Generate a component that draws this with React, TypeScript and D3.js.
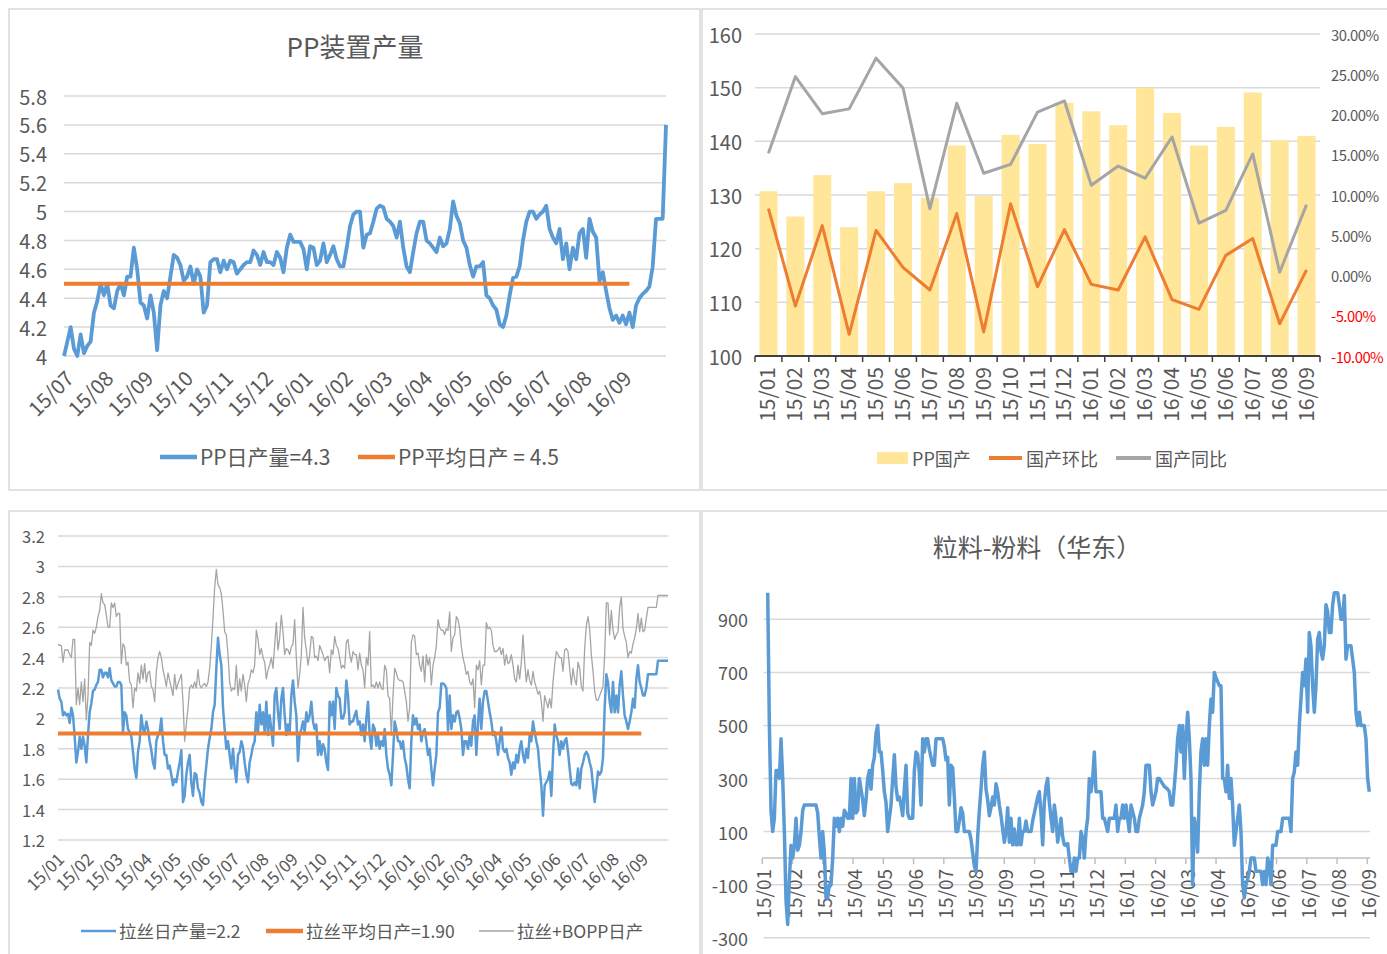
import * as d3 from "d3";

const FONT = '"Noto Sans CJK SC", "Noto Sans", sans-serif';
const TEXT = "#595959";
const GRID = "#D9D9D9";
const BLUE = "#5B9BD5";
const ORANGE = "#ED7D31";
const GRAY = "#A5A5A5";
const YELLOW = "#FFE699";

// ---- PP装置产量 (top left) ----
const ppMonths = ["15/07", "15/08", "15/09", "15/10", "15/11", "15/12", "16/01", "16/02", "16/03", "16/04", "16/05", "16/06", "16/07", "16/08", "16/09"];
const ppDaily = [
  4.0, 4.1, 4.2, 4.05, 4.0, 4.15, 4.02, 4.07, 4.1, 4.3,
  4.38, 4.5, 4.42, 4.5, 4.35, 4.33, 4.45, 4.5, 4.42, 4.55,
  4.55, 4.75, 4.6, 4.37, 4.35, 4.26, 4.42, 4.3, 4.04, 4.35,
  4.45, 4.4, 4.55, 4.7, 4.68, 4.63, 4.52, 4.55, 4.62, 4.5,
  4.6, 4.55, 4.3, 4.35, 4.65, 4.67, 4.67, 4.58, 4.66, 4.6,
  4.66, 4.65, 4.57, 4.6, 4.63, 4.65, 4.65, 4.73, 4.7, 4.63,
  4.72, 4.65, 4.65, 4.63, 4.72, 4.68, 4.58, 4.75, 4.84, 4.79,
  4.79, 4.79, 4.74, 4.6, 4.76, 4.75, 4.63, 4.66, 4.78, 4.65,
  4.7, 4.76, 4.67, 4.62, 4.62, 4.75,
  4.9, 4.98, 5.0, 5.0, 4.75, 4.84, 4.85, 4.93, 5.02, 5.04,
  5.03, 4.95, 4.93, 4.9, 4.82, 4.93, 4.75, 4.62, 4.58, 4.72,
  4.85, 4.93, 4.93, 4.8, 4.78, 4.75, 4.72, 4.82, 4.76, 4.78,
  4.88, 5.07, 4.97, 4.92, 4.8, 4.75, 4.63, 4.55, 4.62, 4.62,
  4.65, 4.42, 4.4, 4.35, 4.32, 4.22, 4.2, 4.28, 4.42, 4.54,
  4.55, 4.62, 4.8, 4.93, 5.0, 5.0, 4.95, 4.98, 5.0, 5.04,
  4.88, 4.82, 4.78, 4.88, 4.67, 4.78, 4.6, 4.75, 4.67, 4.85,
  4.88, 4.68, 4.95, 4.86, 4.82, 4.52, 4.58, 4.45, 4.33, 4.25,
  4.28, 4.23, 4.28, 4.22, 4.3, 4.2, 4.35, 4.4, 4.43, 4.45,
  4.48, 4.62, 4.95, 4.95, 4.95, 5.6,
];
const ppAvg = 4.5;
const ppAvgDays = 171;

// ---- PP国产 (top right) ----
const trMonths = ["15/01", "15/02", "15/03", "15/04", "15/05", "15/06", "15/07", "15/08", "15/09", "15/10", "15/11", "15/12", "16/01", "16/02", "16/03", "16/04", "16/05", "16/06", "16/07", "16/08", "16/09"];
const domestic = [130.7, 126, 133.7, 124, 130.7, 132.2, 129.5, 139.2, 129.8, 141.2, 139.5, 147.2, 145.6, 143, 150, 145.3, 139.2, 142.7, 149.1, 140.2, 141];
const momPct = [8.3, -3.8, 6.2, -7.3, 5.6, 1.0, -1.8, 7.7, -7.0, 8.9, -1.4, 5.7, -1.1, -1.8, 4.8, -3.0, -4.2, 2.5, 4.6, -6.0, 0.7];
const yoyPct = [15.2, 24.7, 20.1, 20.7, 27.0, 23.3, 8.3, 21.4, 12.7, 13.8, 20.3, 21.7, 11.2, 13.6, 12.1, 17.2, 6.5, 8.1, 15.1, 0.4, 8.8];

// ---- 拉丝 (bottom left) ----
const blMonths = ["15/01", "15/02", "15/03", "15/04", "15/05", "15/06", "15/07", "15/08", "15/09", "15/10", "15/11", "15/12", "16/01", "16/02", "16/03", "16/04", "16/05", "16/06", "16/07", "16/08", "16/09"];
const raffia = [
  2.19, 2.13, 2.11, 2.02, 2.04, 2.02, 2.03, 1.97, 2.07, 2.02,
  1.88, 1.71, 1.78, 1.88, 1.8, 1.88, 1.82, 1.71, 1.89, 2.04,
  2.1, 2.18, 2.19, 2.22, 2.24, 2.32, 2.32, 2.27, 2.3, 2.3,
  2.27, 2.33, 2.25, 2.23, 2.21, 2.21, 2.24, 2.24, 2.22, 1.91,
  2.04, 2.02, 1.93, 1.91, 1.88, 1.78, 1.67, 1.61, 1.78, 1.85,
  2.02, 1.93, 1.91, 1.98, 1.93, 1.85, 1.79, 1.71, 1.67, 1.85,
  1.89, 1.91, 2.0, 1.85, 1.76, 1.76, 1.67, 1.69, 1.63, 1.56,
  1.6, 1.58, 1.65, 1.71, 1.79, 1.45, 1.49, 1.63, 1.71, 1.76,
  1.58, 1.49, 1.64, 1.63, 1.54, 1.51, 1.45, 1.43, 1.58, 1.69,
  1.8, 1.87, 1.93, 2.04, 2.09, 2.33, 2.53, 2.42, 2.35, 2.07,
  1.93, 1.8, 1.85, 1.76, 1.67, 1.8, 1.67, 1.58, 1.76, 1.78,
  1.85, 1.81, 1.71, 1.63, 1.58, 1.71, 1.76, 1.82, 1.85, 2.04,
  1.91, 2.09, 1.96, 2.04, 1.91, 2.11, 1.89, 2.02, 1.93, 1.82,
  2.15, 2.2, 2.04, 1.93, 2.13, 2.2, 2.02, 1.89, 1.96, 1.91,
  2.15, 2.25, 2.11, 2.02, 1.72, 1.89, 1.93, 1.98, 1.91, 2.04,
  1.98, 2.02, 2.11, 1.98, 1.93, 1.96, 1.76, 1.85, 1.76, 1.83,
  1.8, 1.71, 1.66, 2.11, 2.02, 2.11, 1.93, 2.2, 2.15, 2.13,
  2.0, 2.0, 2.04, 2.25, 2.15, 1.96, 1.98, 1.98, 2.02, 2.05,
  1.96, 1.98, 1.89, 1.96, 1.85,
  2.0, 2.11, 1.89, 1.8, 1.96, 1.93, 1.82, 1.89, 1.8, 1.85,
  1.82, 1.93, 1.76, 1.67, 1.63, 1.56, 1.76, 1.98, 1.93, 1.85,
  1.85, 1.8, 1.85, 1.74, 1.69, 1.6, 1.54, 1.85, 2.02, 1.96,
  2.0, 1.93, 1.96, 1.85, 1.91, 1.93, 1.85, 1.76, 1.8, 1.67,
  1.56, 1.67, 1.76, 2.04, 2.07, 2.23, 2.23, 2.22, 2.2, 1.92,
  2.15, 1.93, 2.02, 1.98, 2.04, 2.05, 2.0, 1.93, 1.76, 1.85,
  1.85, 1.8, 1.89, 1.82, 1.98, 2.02, 1.76, 1.96, 2.13, 1.93,
  2.11, 2.18, 2.18, 2.11, 2.04, 1.98, 1.89, 1.91, 1.85, 1.76,
  1.85, 1.94, 1.8, 1.78, 1.8, 1.74, 1.71, 1.63, 1.71, 1.67,
  1.76, 1.71, 1.8, 1.85, 1.76, 1.71, 1.8, 1.74, 1.89, 1.85,
  1.98, 1.91, 1.85, 1.8, 1.67, 1.56, 1.36, 1.56, 1.58, 1.6,
  1.65, 1.49, 1.76, 1.96, 1.89, 1.85, 1.76, 1.85, 1.8, 1.85,
  1.87, 1.78, 1.67, 1.57, 1.56, 1.58, 1.56, 1.67, 1.54, 1.67,
  1.71, 1.76, 1.78, 1.76, 1.71, 1.67, 1.56, 1.45, 1.54, 1.65,
  1.63, 1.65, 1.74, 2.07, 2.29, 2.24, 2.11, 2.04, 2.24, 2.04,
  2.15, 2.04, 2.22, 2.31, 2.15, 2.02, 1.98, 1.93, 1.98, 2.04,
  2.13, 2.07, 2.26, 2.35, 2.24, 2.2, 2.15, 2.15, 2.2, 2.29,
  2.29, 2.29, 2.29, 2.29, 2.29, 2.38, 2.38, 2.38, 2.38, 2.38,
  2.38, 2.38,
];
const raffiaBopp = [
  2.49, 2.48, 2.48, 2.37, 2.45, 2.45, 2.45, 2.42, 2.4, 2.52,
  2.52, 2.09, 2.2, 2.09, 2.24, 2.11, 2.26, 1.99, 2.15, 2.5,
  2.48, 2.58, 2.56, 2.6, 2.67, 2.71, 2.82, 2.76, 2.75, 2.68,
  2.6, 2.6, 2.76, 2.73, 2.76, 2.67, 2.69, 2.69, 2.36, 2.49,
  2.47, 2.35, 2.37, 2.24, 2.22, 2.07, 2.2, 2.18, 2.3, 2.23,
  2.35, 2.26, 2.36, 2.24, 2.3, 2.31, 2.21, 2.19, 2.11, 2.31,
  2.4, 2.44, 2.4, 2.32, 2.27, 2.21, 2.3, 2.25, 2.2, 2.15,
  2.29, 2.19, 2.23, 2.26, 2.29, 2.11, 1.85, 1.96, 2.07, 2.2,
  2.22, 2.2, 2.24, 2.2, 2.32, 2.22, 2.2, 2.22, 2.23, 2.21,
  2.24, 2.33, 2.48, 2.66, 2.86, 2.98, 2.88, 2.86, 2.82, 2.71,
  2.57, 2.55, 2.42, 2.24, 2.18, 2.2, 2.19, 2.35, 2.15, 2.26,
  2.18, 2.29, 2.22, 2.11, 2.23, 2.26, 2.32, 2.3, 2.35, 2.58,
  2.52, 2.42, 2.46, 2.4, 2.37, 2.26, 2.32, 2.35, 2.4, 2.33,
  2.48, 2.63, 2.45, 2.53, 2.68, 2.57, 2.42, 2.46, 2.45, 2.42,
  2.47, 2.49, 2.65, 2.4, 2.2, 2.29, 2.42, 2.73, 2.53, 2.45,
  2.35, 2.42, 2.54, 2.53, 2.4, 2.41, 2.38, 2.48, 2.45, 2.42,
  2.38, 2.4, 2.41, 2.3, 2.45, 2.42, 2.54, 2.48, 2.46, 2.4,
  2.33, 2.35, 2.33, 2.5, 2.52, 2.42, 2.37, 2.44, 2.42, 2.42,
  2.32, 2.43, 2.35, 2.32, 2.2,
  2.4, 2.35, 2.57, 2.21, 2.22, 2.2, 2.24, 2.2, 2.24, 2.2,
  2.19, 2.35, 2.32, 2.15, 2.13, 1.89, 2.15, 2.33, 2.3, 2.26,
  2.25, 2.25, 2.24, 2.18, 2.11, 1.98, 2.07, 2.5, 2.55, 2.54,
  2.42, 2.43, 2.35, 2.31, 2.41, 2.24, 2.42, 2.35, 2.4, 2.22,
  2.35, 2.4, 2.48, 2.65, 2.6, 2.58, 2.58, 2.55, 2.59, 2.58,
  2.7, 2.44, 2.53, 2.55, 2.67, 2.65, 2.59, 2.47, 2.4, 2.35,
  2.29, 2.31, 2.24, 2.22, 2.26, 2.07, 2.35, 2.32, 2.38, 2.22,
  2.35, 2.35, 2.63, 2.59, 2.6, 2.58, 2.48, 2.44, 2.44, 2.45,
  2.47, 2.42, 2.46, 2.35, 2.42, 2.36, 2.37, 2.42, 2.35, 2.26,
  2.24, 2.35, 2.26, 2.37, 2.55, 2.37, 2.24, 2.32, 2.25, 2.22,
  2.31, 2.24, 2.2, 2.16, 2.18, 2.11, 1.98, 2.15, 2.11, 2.07,
  2.13, 2.07, 2.24, 2.35, 2.44, 2.42, 2.4, 2.4, 2.31, 2.45,
  2.46, 2.44, 2.33, 2.22, 2.33, 2.26, 2.22, 2.37, 2.33, 2.21,
  2.18, 2.46, 2.61, 2.67, 2.59, 2.42, 2.31, 2.18, 2.12, 2.12,
  2.15, 2.18, 2.21, 2.42, 2.76, 2.76, 2.55, 2.71, 2.58, 2.52,
  2.55, 2.57, 2.73, 2.8, 2.59, 2.54, 2.5, 2.4, 2.44, 2.43,
  2.49, 2.53, 2.59, 2.69, 2.57, 2.66, 2.57, 2.58, 2.66, 2.73,
  2.73, 2.73, 2.73, 2.73, 2.73, 2.81, 2.81, 2.81, 2.81, 2.81,
  2.81, 2.81,
];
const raffiaAvg = 1.9;
const raffiaAvgDays = 351;

// ---- 粒料-粉料（华东） (bottom right) ----
const brMonths = ["15/01", "15/02", "15/03", "15/04", "15/05", "15/06", "15/07", "15/08", "15/09", "15/10", "15/11", "15/12", "16/01", "16/02", "16/03", "16/04", "16/05", "16/06", "16/07", "16/08", "16/09"];
const brTicks = [-300, -100, 100, 300, 500, 700, 900];
const spread = [
  1000, 500, 180, 100, 150, 330, 330, 300, 450, 300,
  100, -160, -250, -80, 48, 0, 48, 150, 30, 48,
  100, 180, 200, 200, 200, 200, 200, 200, 200, 200,
  170, 80, 0, 100, 20, -150, -150, -100, -100, 0,
  150, 120, 150, 100, 150, 120, 180, 170, 150, 150,
  300, 150, 300, 170, 180, 300, 260, 220, 160, 220,
  300, 330, 260, 350, 380, 470, 500, 400, 400, 330,
  250, 210, 100, 150, 200, 300, 390, 270, 220, 230,
  200, 160, 260, 350, 170, 150, 150, 150, 330, 400,
  390, 320, 200, 450, 400, 450, 450, 410, 380, 350,
  350, 450, 450, 450, 450, 450, 420, 370, 380, 200,
  350, 340, 230, 100, 100, 140, 190, 170, 100, 100,
  100, 100, 70, 20, -30, -50, 80, 180, 260, 350,
  400, 260, 220, 160, 190, 230, 200, 280, 250, 200,
  160, 110, 60, 100, 190, 60, 150, 50, 110, 50,
  50, 150, 50, 100, 100, 140, 100, 100, 100, 140,
  170, 200, 230, 250, 170, 50, 210, 270, 300, 210,
  150, 100, 200, 150, 60, 100, 150, 80, 50,
  48, 55, 0, -50, -50, 0, -50, 0, 0, 100,
  75, 0, 100, 150, 300, 250, 300, 400, 250, 250,
  250, 250, 150, 150, 125, 100, 150, 150, 150, 150,
  200, 100, 150, 150, 200, 150, 200, 150, 100, 200,
  175, 150, 100, 100, 150, 175, 200, 250, 350, 350,
  350, 250, 200, 225, 250, 300, 300, 290, 280, 270,
  265, 260, 250, 200, 200, 270, 350, 450, 500, 400,
  500, 300, 450, 550, 450, 300, -100, 150, 100, 23,
  250, 400, 450, 350, 450, 350, 500, 600, 550, 700,
  680, 665, 650, 650, 300, 300, 250, 350, 225, 300,
  200, 48, 100, 150, 200, 100, -100, -150, -100, -80,
  -50, 0, 0, 0, -50, -50, -50, -50, -100, -50,
  -100, 0, -25, -100, 48, 48, 48, 100, 100, 100,
  150, 150, 150, 150, 150, 100, 300, 325, 400, 350,
  500, 600, 700, 650, 750, 550, 850, 800, 650, 550,
  650, 825, 850, 780, 750, 800, 955, 930, 850, 850,
  955, 1000, 1000, 1000, 955, 900, 900, 990, 750, 800,
  800, 800, 750, 700, 550, 500, 550, 500, 500, 500,
  450, 300, 250,
];

const fmtDec = (d: number) => String(+d.toFixed(1));

function Frame({ x, y, w, h }: { x: number; y: number; w: number; h: number }) {
  return <rect x={x} y={y} width={w} height={h} fill="#fff" stroke={GRID} strokeWidth={1.5} />;
}

function PPOutputChart() {
  const x = d3.scaleLinear().domain([0, ppDaily.length - 1]).range([64, 666]);
  const y = d3.scaleLinear().domain([4, 5.8]).range([356, 96]);
  const lbl = d3.scalePoint<string>().domain(ppMonths).range([66, 624]);
  const line = d3.line<number>().x((_, i) => x(i)).y((d) => y(d));
  return (
    <g>
      <Frame x={9} y={9} w={691} h={481} />
      <text x={355} y={57} textAnchor="middle" fontSize={26} fill={TEXT}>PP装置产量</text>
      {y.ticks(9).map((t) => (
        <g key={t}>
          <line x1={64} x2={666} y1={y(t)} y2={y(t)} stroke={GRID} strokeWidth={1.5} />
          <text x={47} y={y(t)} textAnchor="end" dominantBaseline="central" fontSize={20} fill={TEXT}>{fmtDec(t)}</text>
        </g>
      ))}
      {ppMonths.map((m) => (
        <text key={m} transform={`translate(${lbl(m)},371) rotate(-45)`} textAnchor="end" dy="0.62em" fontSize={20.5} fill={TEXT}>{m}</text>
      ))}
      <path d={line(ppDaily) || ""} fill="none" stroke={BLUE} strokeWidth={3.8} strokeLinejoin="round" />
      <line x1={x(0)} x2={x(ppAvgDays - 1)} y1={y(ppAvg)} y2={y(ppAvg)} stroke={ORANGE} strokeWidth={4} />
      <line x1={160} x2={197} y1={457} y2={457} stroke={BLUE} strokeWidth={4.5} />
      <text x={200} y={465} fontSize={21} fill={TEXT}>PP日产量=4.3</text>
      <line x1={358} x2={395} y1={457} y2={457} stroke={ORANGE} strokeWidth={4.5} />
      <text x={398} y={465} fontSize={21} fill={TEXT}>PP平均日产 = 4.5</text>
    </g>
  );
}

function DomesticChart() {
  const xb = d3.scaleBand<string>().domain(trMonths).range([755, 1320]).paddingInner(0.33).paddingOuter(0.165);
  const y = d3.scaleLinear().domain([100, 160]).range([356, 34]);
  const yp = d3.scaleLinear().domain([-10, 30]).range([356, 34]);
  const cx = (m: string) => (xb(m) ?? 0) + xb.bandwidth() / 2;
  const pctLine = d3.line<number>().x((_, i) => cx(trMonths[i])).y((d) => yp(d));
  const step = xb.step();
  const x0 = xb.range()[0];
  return (
    <g>
      <Frame x={702} y={9} w={700} h={481} />
      {y.ticks(6).map((t) => (
        <g key={t}>
          {t > 100 && <line x1={755} x2={1320} y1={y(t)} y2={y(t)} stroke={GRID} strokeWidth={1.5} />}
          <text x={742} y={y(t)} textAnchor="end" dominantBaseline="central" fontSize={20} fill={TEXT}>{t}</text>
        </g>
      ))}
      {yp.ticks(8).map((t) => (
        <text key={t} x={1331} y={yp(t)} dominantBaseline="central" fontSize={14.8} letterSpacing={-0.5} fill={t < 0 ? "#FF0000" : TEXT}>{t.toFixed(2) + "%"}</text>
      ))}
      {trMonths.map((m, i) => (
        <rect key={m} x={xb(m)} y={y(domestic[i])} width={xb.bandwidth()} height={y(100) - y(domestic[i])} fill={YELLOW} />
      ))}
      <line x1={755} x2={1320} y1={356} y2={356} stroke="#404040" strokeWidth={2} />
      {d3.range(trMonths.length + 1).map((i) => (
        <line key={i} x1={x0 + i * step} x2={x0 + i * step} y1={356} y2={362} stroke="#404040" strokeWidth={1.5} />
      ))}
      {trMonths.map((m) => (
        <text key={m} transform={`translate(${cx(m) + 7},367) rotate(-90)`} textAnchor="end" fontSize={21} fill={TEXT}>{m}</text>
      ))}
      <path d={pctLine(momPct) || ""} fill="none" stroke={ORANGE} strokeWidth={3} strokeLinejoin="round" />
      <path d={pctLine(yoyPct) || ""} fill="none" stroke={GRAY} strokeWidth={3} strokeLinejoin="round" />
      <rect x={877} y={452} width={31} height={12} fill={YELLOW} />
      <text x={912} y={466} fontSize={18} fill={TEXT}>PP国产</text>
      <line x1={989} x2={1022} y1={458} y2={458} stroke={ORANGE} strokeWidth={4} />
      <text x={1026} y={466} fontSize={18} fill={TEXT}>国产环比</text>
      <line x1={1116} x2={1151} y1={458} y2={458} stroke={GRAY} strokeWidth={4} />
      <text x={1155} y={466} fontSize={18} fill={TEXT}>国产同比</text>
    </g>
  );
}

function RaffiaChart() {
  const x = d3.scaleLinear().domain([0, raffia.length - 1]).range([58, 668]);
  const y = d3.scaleLinear().domain([1.2, 3.2]).range([840, 536]);
  const lbl = d3.scalePoint<string>().domain(blMonths).range([58, 642]);
  const line = d3.line<number>().x((_, i) => x(i)).y((d) => y(d));
  return (
    <g>
      <Frame x={9} y={511} w={691} h={460} />
      {y.ticks(10).map((t) => (
        <g key={t}>
          <line x1={58} x2={668} y1={y(t)} y2={y(t)} stroke={GRID} strokeWidth={1.5} />
          <text x={45} y={y(t)} textAnchor="end" dominantBaseline="central" fontSize={16.5} fill={TEXT}>{fmtDec(t)}</text>
        </g>
      ))}
      {blMonths.map((m) => (
        <text key={m} transform={`translate(${lbl(m)},853) rotate(-45)`} textAnchor="end" dy="0.62em" fontSize={17} fill={TEXT}>{m}</text>
      ))}
      <path d={line(raffiaBopp) || ""} fill="none" stroke={GRAY} strokeWidth={1.3} strokeLinejoin="round" />
      <path d={line(raffia) || ""} fill="none" stroke={BLUE} strokeWidth={2.5} strokeLinejoin="round" />
      <line x1={x(0)} x2={x(raffiaAvgDays - 1)} y1={y(raffiaAvg)} y2={y(raffiaAvg)} stroke={ORANGE} strokeWidth={4} />
      <line x1={81} x2={116} y1={931} y2={931} stroke={BLUE} strokeWidth={2.5} />
      <text x={119} y={938} fontSize={17.5} fill={TEXT}>拉丝日产量=2.2</text>
      <line x1={266} x2={303} y1={931} y2={931} stroke={ORANGE} strokeWidth={4.5} />
      <text x={306} y={938} fontSize={17.5} fill={TEXT}>拉丝平均日产=1.90</text>
      <line x1={479} x2={514} y1={931} y2={931} stroke={GRAY} strokeWidth={1.5} />
      <text x={517} y={938} fontSize={17.5} fill={TEXT}>拉丝+BOPP日产</text>
    </g>
  );
}

function SpreadChart() {
  const x = d3.scaleLinear().domain([0, spread.length - 1]).range([767.7, 1369.3]);
  const y = d3.scaleLinear().domain([-300, 1000]).range([937.7, 592.8]);
  const tick = d3.scalePoint<string>().domain(brMonths).range([762.3, 1367.3]);
  const line = d3.line<number>().x((_, i) => x(i)).y((d) => y(d));
  return (
    <g>
      <Frame x={702} y={511} w={700} h={460} />
      <text x={1037} y={557} textAnchor="middle" fontSize={25} fill={TEXT}>粒料-粉料（华东）</text>
      {brTicks.map((t) => (
        <g key={t}>
          <line x1={763.5} x2={1370} y1={y(t)} y2={y(t)} stroke={GRID} strokeWidth={1.5} />
          <text x={748} y={y(t)} textAnchor="end" dominantBaseline="central" fontSize={18} fill={TEXT}>{t}</text>
        </g>
      ))}
      <line x1={762.3} x2={1370} y1={y(0)} y2={y(0)} stroke="#BFBFBF" strokeWidth={1.5} />
      {brMonths.map((m) => (
        <g key={m}>
          <line x1={tick(m)} x2={tick(m)} y1={y(0)} y2={y(0) + 6} stroke="#BFBFBF" strokeWidth={1.5} />
          <text transform={`translate(${(tick(m) ?? 0) + 9},869) rotate(-90)`} textAnchor="end" fontSize={19} fill={TEXT}>{m}</text>
        </g>
      ))}
      <path d={line(spread) || ""} fill="none" stroke={BLUE} strokeWidth={3.5} strokeLinejoin="round" />
    </g>
  );
}

export default function App() {
  return (
    <svg width={1387} height={954} style={{ position: "absolute", left: 0, top: 0 }} fontFamily={FONT}>
      <rect width={1387} height={954} fill="#fff" />
      <PPOutputChart />
      <DomesticChart />
      <RaffiaChart />
      <SpreadChart />
    </svg>
  );
}
